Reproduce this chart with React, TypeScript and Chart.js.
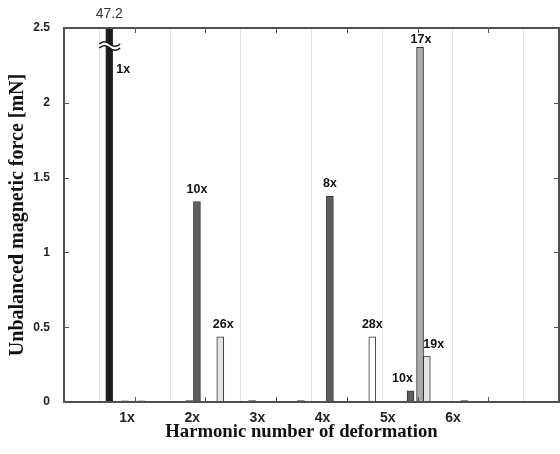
import React, { useEffect, useRef } from 'react';
import { Chart, registerables } from 'chart.js';

Chart.register(...registerables);

// Tick labels
const X_LABELS = ['1x', '2x', '3x', '4x', '5x', '6x'];
const Y_TICKS = [0, 0.5, 1, 1.5, 2, 2.5];

// Bars: position on the harmonic axis (0–7), force in mN, annotation
const BLACK_X = [0.64, 1.77, 2.66, 3.35, 5.66];
const BLACK_Y = [47.2, 0.01, 0.01, 0.01, 0.01];
const BLACK_LBL = ['1x', '', '', '', ''];

const DARK_X = [0.86, 0.98, 1.09, 1.2, 1.88, 3.76, 4.9];
const DARK_Y = [0.008, 0.006, 0.008, 0.005, 1.34, 1.377, 0.075];
const DARK_LBL = ['', '', '', '', '10x', '8x', '10x'];

const MID_X = [5.035];
const MID_Y = [2.37];
const MID_LBL = ['17x'];

const LIGHT_X = [2.21, 5.13];
const LIGHT_Y = [0.436, 0.307];
const LIGHT_LBL = ['26x', '19x'];

const WHITE_X = [4.36];
const WHITE_Y = [0.436];
const WHITE_LBL = ['28x'];

const TALL_VALUE_LABEL = '47.2';
const X_TITLE = 'Harmonic number of deformation';
const Y_TITLE = 'Unbalanced magnetic force [mN]';

const SERIES = [
  { xs: BLACK_X, ys: BLACK_Y, lbl: BLACK_LBL, fill: '#1c1c1c' },
  { xs: DARK_X, ys: DARK_Y, lbl: DARK_LBL, fill: '#5e5e5e' },
  { xs: MID_X, ys: MID_Y, lbl: MID_LBL, fill: '#acacac' },
  { xs: LIGHT_X, ys: LIGHT_Y, lbl: LIGHT_LBL, fill: '#e4e4e4' },
  { xs: WHITE_X, ys: WHITE_Y, lbl: WHITE_LBL, fill: '#ffffff' },
];

// label nudges (dx, dy from bar top) keyed by "dataset:index"
const NUDGE: Record<string, [number, number]> = {
  '1:6': [-8, -12],
  '2:0': [1, -8],
  '3:0': [3, -12],
  '3:1': [7, -12],
};

const decor = {
  id: 'decor',
  afterDraw(chart: any) {
    const ctx = chart.ctx;
    const ca = chart.chartArea;
    const xs = chart.scales.x;
    const ys = chart.scales.y;
    const L = Math.round(ca.left);
    const R = Math.round(ca.right);
    const T = Math.round(ca.top);
    const B = Math.round(ca.bottom);
    ctx.save();
    // frame (filled strips)
    ctx.fillStyle = '#505050';
    ctx.fillRect(L - 1, T - 1, R - L + 2, 2);
    ctx.fillRect(L - 1, B - 1, R - L + 2, 2);
    ctx.fillRect(L - 1, T - 1, 2, B - T + 2);
    ctx.fillRect(R - 1, T - 1, 2, B - T + 2);
    // inward ticks
    ctx.fillStyle = '#555';
    X_LABELS.forEach((_, i) => {
      const px = Math.round(xs.getPixelForValue(i + 1));
      ctx.fillRect(px, B - 5, 1, 5);
      ctx.fillRect(px, T, 1, 5);
    });
    Y_TICKS.forEach((v) => {
      const py = Math.round(ys.getPixelForValue(v));
      ctx.fillRect(L, py, 5, 1);
      ctx.fillRect(R - 5, py, 5, 1);
    });

    // axis break on the clipped bar
    const tall = chart.getDatasetMeta(0).data[0];
    const bx = tall.x;
    const yc = T + 18;
    const x0 = bx - 10;
    const w = 21;
    const wave = (t: number) => -2.2 * Math.sin(2 * Math.PI * t);
    ctx.beginPath();
    for (let i = 0; i <= 20; i++) {
      const t = i / 20;
      const px = x0 + t * w;
      const py = yc - 2 + wave(t);
      if (i === 0) ctx.moveTo(px, py);
      else ctx.lineTo(px, py);
    }
    for (let i = 20; i >= 0; i--) {
      const t = i / 20;
      ctx.lineTo(x0 + t * w, yc + 2 + wave(t));
    }
    ctx.closePath();
    ctx.fillStyle = '#ffffff';
    ctx.fill();
    ctx.strokeStyle = '#111';
    ctx.lineWidth = 1.4;
    [-2, 2].forEach((off) => {
      ctx.beginPath();
      for (let i = 0; i <= 20; i++) {
        const t = i / 20;
        const px = x0 + t * w;
        const py = yc + off + wave(t);
        if (i === 0) ctx.moveTo(px, py);
        else ctx.lineTo(px, py);
      }
      ctx.stroke();
    });

    // value above the clipped bar
    ctx.fillStyle = '#333';
    ctx.font = '14px "Liberation Sans", Arial, sans-serif';
    ctx.textAlign = 'center';
    ctx.textBaseline = 'middle';
    ctx.fillText(TALL_VALUE_LABEL, bx, T - 14);

    // harmonic annotations
    ctx.font = 'bold 12.5px "Liberation Sans", Arial, sans-serif';
    ctx.fillStyle = '#111';
    SERIES.forEach((s, di) => {
      const meta = chart.getDatasetMeta(di);
      s.lbl.forEach((t, i) => {
        if (!t) return;
        const el = meta.data[i];
        if (di === 0 && i === 0) {
          ctx.fillText(t, el.x + 14, T + 42);
          return;
        }
        const [dx, dy] = NUDGE[`${di}:${i}`] || [0, -12];
        ctx.fillText(t, el.x + dx, el.y + dy);
      });
    });

    // x-axis title (slightly left of plot centre, as in the source)
    ctx.font = 'bold 18.7px "Liberation Serif", "Times New Roman", serif';
    ctx.fillStyle = '#111';
    ctx.fillText(X_TITLE, (ca.left + ca.right) / 2 - 10, 432);
    ctx.restore();
  },
};

export default function App() {
  const ref = useRef<HTMLCanvasElement | null>(null);
  useEffect(() => {
    if (!ref.current) return;
    const chart = new Chart(ref.current, {
      type: 'bar',
      data: {
        datasets: SERIES.map((s) => ({
          data: s.xs.map((x, i) => ({ x, y: s.ys[i] })),
          backgroundColor: s.fill,
          borderColor: '#333',
          borderWidth: 1,
          borderSkipped: false,
          barThickness: 7,
          grouped: false,
          xAxisID: 'x',
          yAxisID: 'y',
        })),
      },
      options: {
        animation: false,
        responsive: false,
        devicePixelRatio: 1,
        layout: { padding: { top: 28, right: 1, left: 0, bottom: 0 } },
        plugins: { legend: { display: false }, tooltip: { enabled: false } },
        scales: {
          x: {
            type: 'linear',
            position: 'bottom',
            min: 0,
            max: 7,
            offset: false,
            afterBuildTicks: (sc: any) => {
              sc.ticks = X_LABELS.concat('').map((_, i) => ({ value: i + 0.5 }));
            },
            ticks: { display: false },
            grid: { color: '#e2e2e2', drawTicks: false, lineWidth: 1, offset: false },
            border: { display: false },
            afterFit: (sc: any) => {
              sc.height = 0;
            },
          },
          x2: {
            type: 'linear',
            position: 'bottom',
            min: 0.034,
            max: 7.625,
            offset: false,
            afterBuildTicks: (sc: any) => {
              sc.ticks = X_LABELS.map((_, i) => ({ value: i + 1 }));
            },
            ticks: {
              callback: (_v: any, i: number) => X_LABELS[i],
              font: { family: '"Liberation Sans", Arial, sans-serif', size: 14, weight: 'bold' },
              color: '#222',
              padding: 8,
              maxRotation: 0,
              autoSkip: false,
            },
            grid: { display: false, drawTicks: false, offset: false },
            border: { display: false },
            afterFit: (sc: any) => {
              sc.height = 52;
            },
          },
          y: {
            type: 'linear',
            position: 'left',
            min: 0,
            max: 2.5,
            afterBuildTicks: (sc: any) => {
              sc.ticks = Y_TICKS.map((v) => ({ value: v }));
            },
            ticks: {
              callback: (v: any) => String(v),
              font: { family: '"Liberation Sans", Arial, sans-serif', size: 12, weight: 'bold' },
              color: '#222',
              padding: 14,
            },
            grid: { display: false, drawTicks: false },
            border: { display: false },
            title: {
              display: true,
              text: Y_TITLE,
              font: { family: '"Liberation Serif", "Times New Roman", serif', size: 20, weight: 'bold' },
              color: '#111',
              padding: { top: 6, bottom: 0 },
            },
            afterFit: (sc: any) => {
              sc.width = 64;
            },
          },
        },
      },
      plugins: [decor],
    } as any);
    return () => chart.destroy();
  }, []);
  return (
    <div style={{ position: 'fixed', left: 0, top: 0, width: 560, height: 454, background: '#fff' }}>
      <canvas ref={ref} width={560} height={454} />
    </div>
  );
}
